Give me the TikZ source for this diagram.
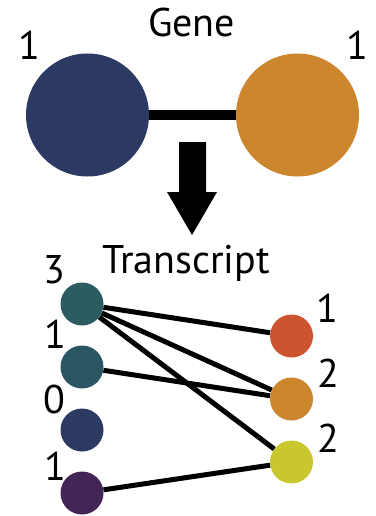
\documentclass[tikz,border=0pt]{standalone}
\usepackage{fontspec}
\setmainfont{PT Sans}
\definecolor{navy}{HTML}{2B3963}
\definecolor{ochre}{HTML}{CB862E}
\definecolor{tealA}{HTML}{2A5C61}
\definecolor{tealB}{HTML}{2A5563}
\definecolor{plum}{HTML}{432557}
\definecolor{rust}{HTML}{CC5530}
\definecolor{lime}{HTML}{C8C82E}
\tikzset{
  big/.style={circle, minimum size=123pt, inner sep=0pt},
  small/.style={circle, minimum size=43pt, inner sep=0pt},
  lbl/.style={anchor=base, inner sep=0pt, font=\fontsize{40}{44}\selectfont},
  edge/.style={line width=5pt},
}
\begin{document}
\begin{tikzpicture}[x=1pt, y=-1pt]
\useasboundingbox (0,0) rectangle (375,516);

% gene level
\node[lbl] (gene) at (191.5,37) {Gene};
\node[lbl] (g1l) at (29,60) {1};
\node[lbl] (g1r) at (357,60) {1};
\node[big, fill=navy] (ga) at (87.5,115) {};
\node[big, fill=ochre] (gb) at (297.5,115) {};
\draw[line width=10pt] (ga.east) -- (gb.west);

% arrow from gene to transcript
\fill (179,142) -- (206,142) -- (206,192) -- (217,192) -- (192,235)
      -- (167,192) -- (179,192) -- cycle;

% transcript level
\node[lbl] (tr) at (186,273) {Transcript};
\node[small, fill=tealA] (l1) at (82,304) {};
\node[small, fill=tealB] (l2) at (82,367) {};
\node[small, fill=navy]  (l3) at (82,430) {};
\node[small, fill=plum]  (l4) at (82,493) {};
\node[small, fill=rust]  (r1) at (291.5,336) {};
\node[small, fill=ochre] (r2) at (291.5,399) {};
\node[small, fill=lime]  (r3) at (291.5,462) {};

\node[lbl] (n1) at (54,283) {3};
\node[lbl] (n2) at (55,348) {1};
\node[lbl] (n3) at (54,413) {0};
\node[lbl] (n4) at (55,480) {1};
\node[lbl] (m1) at (327,322) {1};
\node[lbl] (m2) at (328,387) {2};
\node[lbl] (m3) at (328,452) {2};

% links between transcripts
\draw[edge] (l1) -- (r1);
\draw[edge] (l1) -- (r2);
\draw[edge] (l1) -- (r3);
\draw[edge] (l2) -- (r2);
\draw[edge] (l4) -- (r3);
\end{tikzpicture}
\end{document}
